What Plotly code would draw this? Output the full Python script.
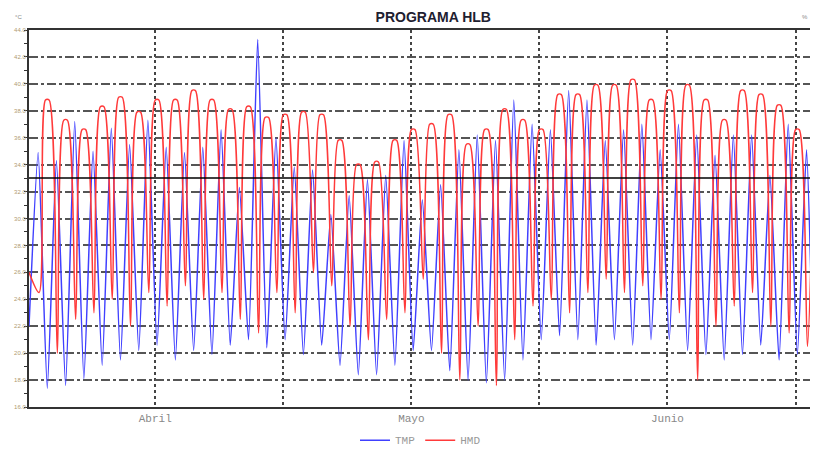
import plotly.graph_objects as go

# ---- data (one value per daily cycle) ----
tmp_peaks = [34.9, 34.3, 37.2, 35.0, 36.7, 35.5, 37.3, 35.3, 34.9, 35.3, 36.6, 32.3, 43.3, 36.0, 33.8,
             33.6, 30.3, 31.7, 32.9, 33.2, 35.8, 31.4, 32.5, 35.1, 36.2,
             35.8, 38.8, 37.0, 36.6, 39.5, 38.8, 35.8, 36.6, 37.0, 35.1,
             37.0, 36.2, 34.7, 36.2, 36.2, 33.2, 37.0, 35.1]
tmp_lows = [17.4, 17.6, 18.1, 19.1, 19.5, 20.2, 20.6, 19.5, 20.2, 19.9,
            20.6, 21.0, 20.4, 21.0, 19.9, 20.6, 19.1, 18.4, 18.4, 19.1,
            20.2, 20.2, 18.7, 18.0, 17.8, 18.0, 19.5, 21.0, 21.3, 21.0,
            20.6, 21.0, 20.6, 21.0, 21.0, 20.2, 19.9, 19.5, 19.9, 20.6,
            19.5, 19.9]
hmd_peaks = [38.8, 37.3, 36.6, 38.3, 39.0, 37.9, 38.8, 38.8, 39.5, 38.8, 38.1, 38.3, 37.5, 37.7, 37.9,
             37.7, 35.8, 34.0, 34.2, 35.8, 36.6, 37.0, 37.7, 35.5, 36.6,
             38.1, 37.3, 36.6, 39.2, 39.2, 39.9, 39.9, 40.3, 38.8, 39.5,
             39.9, 38.8, 37.3, 39.5, 39.2, 38.4, 36.6]
hmd_lows = [24.5, 20.0, 22.5, 23.0, 24.0, 22.0, 24.5, 23.5, 25.0, 24.0,
            24.5, 22.5, 21.5, 24.5, 23.0, 26.0, 25.0, 22.0, 21.0, 22.5,
            23.0, 25.5, 20.0, 18.0, 22.0, 17.6, 21.0, 23.5, 24.0, 23.0,
            24.5, 25.5, 24.5, 25.0, 24.0, 23.0, 18.0, 22.0, 23.5, 24.5,
            22.0, 21.5, 20.5]
tmp_start, tmp_end = 22.0, 22.5
hmd_start, hmd_end = 26.0, 30.0
threshold = 33.0

x_tick_days = [6.9, 13.9, 20.9, 27.9, 34.9, 41.9]
x_tick_text = ["Abril", "", "Mayo", "", "Junio", ""]
y_ticks = [16, 18, 20, 22, 24, 26, 28, 30, 32, 34, 36, 38, 40, 42, 44]
x_end = 42.8

# ---- build the series: V-shaped TMP cycles, broad-topped HMD cycles ----
tx, ty = [0.0], [tmp_start]
for k, p in enumerate(tmp_peaks):
    tx.append(k + 0.5); ty.append(p)
    if k < len(tmp_lows):
        tx.append(k + 1.0); ty.append(tmp_lows[k])
tx.append(x_end); ty.append(tmp_end)

hx, hy = [0.0], [hmd_start]
for k, lo in enumerate(hmd_lows):
    hx.append(k + 0.55); hy.append(lo)
    if k < len(hmd_peaks):
        hx += [k + 0.9, k + 1.1]; hy += [hmd_peaks[k], hmd_peaks[k]]
hx.append(x_end); hy.append(hmd_end)

fig = go.Figure()
fig.add_trace(go.Scatter(x=tx, y=ty, mode="lines", name="TMP",
                         line=dict(color="#4040ff", width=1.5, shape="spline", smoothing=0.5)))
fig.add_trace(go.Scatter(x=hx, y=hy, mode="lines", name="HMD",
                         line=dict(color="#ff3a3a", width=1.5, shape="spline", smoothing=0.8)))

fig.add_shape(type="line", xref="x", yref="y", x0=0, x1=x_end, y0=threshold, y1=threshold,
              line=dict(color="black", width=1.5), layer="above")

# the page body adds an 8px offset, so the figure is 810x443 and placed accordingly
fig.update_layout(
    width=810, height=443,
    margin=dict(l=21, r=6, t=22, b=44, autoexpand=False),
    paper_bgcolor="white", plot_bgcolor="white",
    title=dict(text="<b>PROGRAMA HLB</b>", x=0.525, xanchor="center", y=0.98, yanchor="middle",
               yref="container", xref="container",
               font=dict(family="Liberation Sans", size=14, color="#1e2030")),
    showlegend=True,
    legend=dict(orientation="h", x=0.5, xanchor="center", y=-0.088, yanchor="middle",
                font=dict(family="Liberation Mono", size=11, color="#999999"),
                bgcolor="rgba(0,0,0,0)"),
    xaxis=dict(range=[0, x_end], tickmode="array", tickvals=x_tick_days, ticktext=x_tick_text,
               showgrid=True, gridcolor="#444444", griddash="dot", gridwidth=1.5,
               showline=True, linecolor="#333333", linewidth=2, mirror=True,
               ticks="", zeroline=False, automargin=False,
               tickfont=dict(family="Liberation Mono", size=11, color="#888888")),
    yaxis=dict(range=[16, 44], tickmode="array", tickvals=y_ticks,
               ticktext=[f"{v:.1f}" for v in y_ticks],
               showgrid=True, gridcolor="#555555", griddash="dashdot", gridwidth=1.5,
               showline=True, linecolor="#333333", linewidth=2, mirror=True,
               ticks="", zeroline=False, automargin=False,
               tickfont=dict(family="Liberation Sans", size=6, color="#b09a70"),
               minor=dict(tickmode="linear", dtick=1, ticks="outside", ticklen=3, tickcolor="#333333",
                          showgrid=False)),
)
fig.add_annotation(text="°C", xref="paper", yref="paper", x=-0.02, y=1.047, showarrow=False,
                   font=dict(family="Liberation Sans", size=6, color="#888888"))
fig.add_annotation(text="%", xref="paper", yref="paper", x=0.997, y=1.047, showarrow=False,
                   font=dict(family="Liberation Sans", size=6, color="#888888"))

fig.write_html("out.html")
